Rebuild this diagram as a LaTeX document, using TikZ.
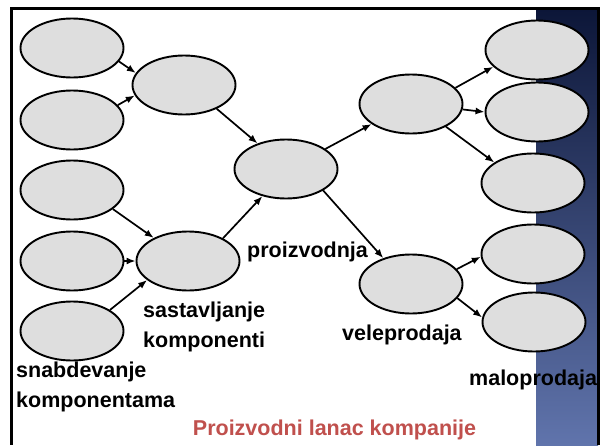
\documentclass[tikz,border=0pt]{standalone}
\usepackage{fontspec}
\setmainfont{Liberation Sans}
\usetikzlibrary{arrows.meta,shapes.geometric}
\definecolor{ellfill}{RGB}{222,222,222}
\definecolor{titlered}{RGB}{192,80,77}
\definecolor{navytop}{RGB}{12,22,56}
\definecolor{navybot}{RGB}{96,116,172}
\tikzset{
  stage/.style={ellipse,draw=black,line width=1.9pt,fill=ellfill,minimum width=103pt,minimum height=59pt,inner sep=0pt},
  flow/.style={line width=1.7pt,-{Latex[length=9pt,width=7pt]}},
  lbl/.style={font=\fontsize{21.5}{25}\selectfont\bfseries,inner sep=0pt,anchor=base west},
  frame/.style={line width=3pt,black}
}
\begin{document}
\begin{tikzpicture}[x=1pt,y=-1pt]
\useasboundingbox (0,0) rectangle (603,445);
\fill[white] (0,0) rectangle (603,445);
% blue strip
\shade[top color=navytop,bottom color=navybot] (536,9) rectangle (598,445);
% frame
\draw[frame] (10,8.5) -- (600,8.5);
\draw[frame] (11.5,7) -- (11.5,445);
\draw[frame] (598.5,7) -- (598.5,445);
% ellipses
\node[stage] (L1) at (72,48) {};
\node[stage] (L2) at (72,120) {};
\node[stage] (L3) at (72,190) {};
\node[stage] (L4) at (72,261) {};
\node[stage] (L5) at (72,331) {};
\node[stage] (A) at (184,85) {};
\node[stage] (S) at (188,261) {};
\node[stage] (P) at (286,169) {};
\node[stage] (U) at (411,104) {};
\node[stage] (V) at (411,284) {};
\node[stage] (R1) at (537,50) {};
\node[stage] (R2) at (537,112) {};
\node[stage] (R3) at (533,183) {};
\node[stage] (R4) at (533,254) {};
\node[stage] (R5) at (534,322) {};
% arrows
\draw[flow] (L1.-16) -- (A.166);
\draw[flow] (L2.18) -- (A.192);
\draw[flow] (L3.-25) -- (S.146);
\draw[flow] (L4.east) -- (S.west);
\draw[flow] (L5.29) -- (S.205);
\draw[flow] (A.-36) -- (P.138);
\draw[flow] (S.33) -- (P.229);
\draw[flow] (P.27) -- (U.207);
\draw[flow] (P.-30) -- (V.137);
\draw[flow] (U.20) -- (R1.201);
\draw[flow] (U.-6) -- (R2.180);
\draw[flow] (U.-33) -- (R3.152);
\draw[flow] (V.18) -- (R4.183);
\draw[flow] (V.-17) -- (R5.175);
% labels
\node[lbl] (tP) at (247,257) {proizvodnja};
\node[lbl] (tS1) at (143,317) {sastavljanje};
\node[lbl] (tS2) at (143,347) {komponenti};
\node[lbl] (tL1) at (16,377) {snabdevanje};
\node[lbl] (tL2) at (16,407) {komponentama};
\node[lbl] (tV) at (342,340) {veleprodaja};
\node[lbl] (tR) at (469,385) {maloprodaja};
\node[lbl,anchor=base,text=titlered] (title) at (334.5,435) {Proizvodni lanac kompanije};
\end{tikzpicture}
\end{document}
